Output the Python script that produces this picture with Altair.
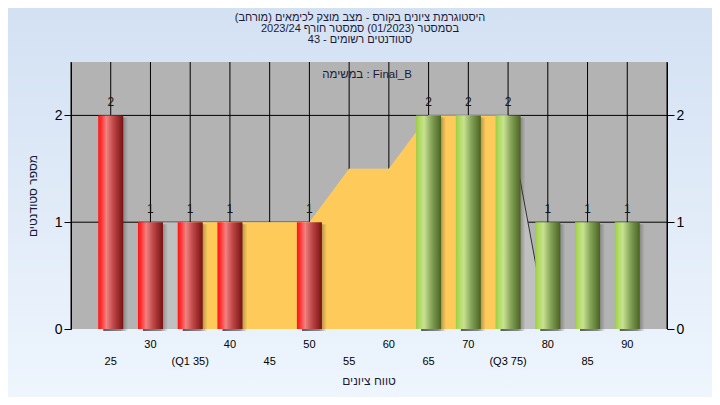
import altair as alt
import pandas as pd

# ---- data ----
bins = [25, 30, 35, 40, 45, 50, 55, 60, 65, 70, 75, 80, 85, 90]
counts = [2, 1, 1, 1, 0, 1, 0, 0, 2, 2, 2, 1, 1, 1]
pass_mark = 55

area_x = [30, 35, 40, 45, 50, 55, 60, 65, 70, 75, 80]
area_y = [1, 1, 1, 1, 1, 1.5, 1.5, 2, 2, 2, 0]
q1, q3 = 35, 75

tick_values = [20, 25, 30, 35, 40, 45, 50, 55, 60, 65, 70, 75, 80, 85, 90, 95]
upper_pos = [30, 40, 50, 60, 70, 80, 90]
upper_labels = ["30", "40", "50", "60", "70", "80", "90"]
lower_pos = [25, 35, 45, 55, 65, 75, 85]
lower_labels = ["25", "(Q1 35)", "45", "55", "65", "(Q3 75)", "85"]
y_ticks = [0, 1, 2]
h_grid = [1, 2]

title_lines = [
    "(היסטוגרמת ציונים בקורס - מצב מוצק לכימאים (מורחב",
    "בסמסטר (01/2023) סמסטר חורף 2023/24",
    "סטודנטים רשומים - 43",
]
subtitle = "במשימה : Final_B"
y_title = "מספר סטודנטים"
x_title = "טווח ציונים"

# ---- layout ----
W, H = 596, 267
PL, PT, PR, PB = 63, 54, 45, 68
FONT = "Liberation Sans"
TXT = "#1a1a3a"

df_bars = pd.DataFrame({"bin": bins, "count": counts})
df_area = pd.DataFrame({"x": area_x, "y": area_y})
df_ticks = pd.DataFrame({"v": tick_values})
df_hgrid = pd.DataFrame({"v": h_grid})
df_yt = pd.DataFrame({"v": y_ticks})
df_up = pd.DataFrame({"x": upper_pos, "t": upper_labels})
df_low = pd.DataFrame({"x": lower_pos, "t": lower_labels})
one = pd.DataFrame({"a": [0]})

xs = alt.Scale(domain=[20, 95], nice=False, zero=False, padding=0)
ys = alt.Scale(domain=[0, 2.5], nice=False, padding=0)


def grad(stops, vertical=False):
    return alt.LinearGradient(
        gradient="linear",
        stops=[alt.GradientStop(offset=o, color=c) for o, c in stops],
        x1=0, y1=0, x2=0 if vertical else 1, y2=1 if vertical else 0,
    )


bg = alt.Chart(one).mark_rect(
    fill=grad([(0, "#D3E1F3"), (1, "#EEF5FD")], vertical=True)
).encode(
    x=alt.value(-PL), x2=alt.value(W + PR), y=alt.value(-PT), y2=alt.value(H + PB)
)

plotbg = alt.Chart(one).mark_rect(fill="#B3B3B3").encode(
    x=alt.value(0), x2=alt.value(W), y=alt.value(0), y2=alt.value(H)
)

vgrid = alt.Chart(df_ticks).mark_rule(color="black", strokeWidth=1).encode(
    x=alt.X("v:Q", scale=xs, axis=alt.Axis(
        values=tick_values, labels=False, tickSize=7, tickColor="black",
        domainColor="black", grid=False, title=None, zindex=1))
)

hgrid = alt.Chart(df_hgrid).mark_rule(color="black", strokeWidth=1).encode(
    y=alt.Y("v:Q", scale=ys, axis=None)
)

left_axis = alt.Chart(df_yt).mark_rule(strokeOpacity=0).encode(
    y=alt.Y("v:Q", scale=ys, axis=alt.Axis(
        orient="left", values=y_ticks, format="d", labelFontSize=14,
        labelFont=FONT, labelColor="black", tickSize=7, tickColor="black",
        domainColor="black", grid=False, labelPadding=2, title=y_title,
        titleFont=FONT, titleFontSize=12, titleFontWeight="normal",
        titleColor=TXT, titlePadding=15, zindex=1))
)

right_axis = alt.Chart(df_yt).mark_rule(strokeOpacity=0).encode(
    y=alt.Y("v:Q", scale=ys, axis=alt.Axis(
        orient="right", values=y_ticks, format="d", labelFontSize=14,
        labelFont=FONT, labelColor="black", tickSize=7, tickColor="black",
        domainColor="black", grid=False, labelPadding=2, title=None, zindex=1))
)

gray_area = alt.Chart(df_area).mark_area(color="#C0C0C0").encode(
    x=alt.X("x:Q", scale=xs, axis=None), y=alt.Y("y:Q", scale=ys, axis=None)
)

yellow_area = alt.Chart(df_area).transform_filter(
    f"datum.x >= {q1} && datum.x <= {q3}"
).mark_area(color="#FECB5A").encode(
    x=alt.X("x:Q", scale=xs, axis=None), y=alt.Y("y:Q", scale=ys, axis=None)
)

edge = alt.Chart(df_area).transform_filter(f"datum.x >= {q3}").mark_line(
    color="#303030", strokeWidth=1
).encode(x=alt.X("x:Q", scale=xs, axis=None), y=alt.Y("y:Q", scale=ys, axis=None))

nz = "datum.count > 0"

shadow = alt.Chart(df_bars).transform_filter(nz).mark_bar(
    width=25, xOffset=5, x2Offset=5, yOffset=2, y2Offset=2,
    fill=grad([(0, "rgba(30,30,30,0.7)"), (0.7, "rgba(40,40,40,0.5)"),
               (1, "rgba(60,60,60,0)")]),
).encode(x=alt.X("bin:Q", scale=xs, axis=None), y=alt.Y("count:Q", scale=ys, axis=None))

red = grad([(0, "#FF1414"), (0.12, "#FF3030"), (0.33, "#F08282"),
            (0.6, "#C04848"), (1, "#781212")])
green = grad([(0, "#9ECC46"), (0.12, "#AEDA5E"), (0.32, "#C8E290"),
              (0.62, "#84A258"), (1, "#4A6420")])

red_bars = alt.Chart(df_bars).transform_filter(
    f"{nz} && datum.bin < {pass_mark}"
).mark_bar(width=25, fill=red).encode(
    x=alt.X("bin:Q", scale=xs, axis=None), y=alt.Y("count:Q", scale=ys, axis=None)
)

green_bars = alt.Chart(df_bars).transform_filter(
    f"{nz} && datum.bin >= {pass_mark}"
).mark_bar(width=25, fill=green).encode(
    x=alt.X("bin:Q", scale=xs, axis=None), y=alt.Y("count:Q", scale=ys, axis=None)
)

bar_labels = alt.Chart(df_bars).transform_filter(nz).mark_text(
    baseline="bottom", dy=-6, fontSize=12, font=FONT, color="#151515"
).encode(
    x=alt.X("bin:Q", scale=xs, axis=None), y=alt.Y("count:Q", scale=ys, axis=None),
    text="count:Q"
)

up_text = alt.Chart(df_up).mark_text(
    baseline="middle", fontSize=11, font=FONT, color="black"
).encode(x=alt.X("x:Q", scale=xs, axis=None), y=alt.value(H + 16), text="t:N")

low_text = alt.Chart(df_low).mark_text(
    baseline="middle", fontSize=11, font=FONT, color="black"
).encode(x=alt.X("x:Q", scale=xs, axis=None), y=alt.value(H + 33), text="t:N")

sub_text = alt.Chart(pd.DataFrame({"t": [subtitle]})).mark_text(
    baseline="middle", fontSize=11.5, font=FONT, color=TXT
).encode(x=alt.value(W / 2 - 2), y=alt.value(13), text="t:N")

xt_text = alt.Chart(pd.DataFrame({"t": [x_title]})).mark_text(
    baseline="middle", fontSize=12, font=FONT, color=TXT
).encode(x=alt.value(W / 2), y=alt.value(H + 52), text="t:N")

title_layers = []
for i, line in enumerate(title_lines):
    title_layers.append(
        alt.Chart(pd.DataFrame({"t": [line]})).mark_text(
            baseline="middle", fontSize=11, font=FONT, color=TXT
        ).encode(x=alt.value(289), y=alt.value(-44 + 11 * i), text="t:N")
    )

chart = alt.layer(
    bg, plotbg, vgrid, hgrid, gray_area, yellow_area, edge, shadow,
    red_bars, green_bars, bar_labels, up_text, low_text, sub_text, xt_text,
    *title_layers, left_axis, right_axis,
).resolve_axis(y="independent").properties(
    width=W, height=H,
    autosize=alt.AutoSizeParams(type="none"),
    padding={"left": PL, "top": PT, "right": PR, "bottom": PB},
).configure(background="#E2ECF8").configure_view(strokeWidth=0)

chart.save("out.html", embed_options={"renderer": "svg", "actions": False})
